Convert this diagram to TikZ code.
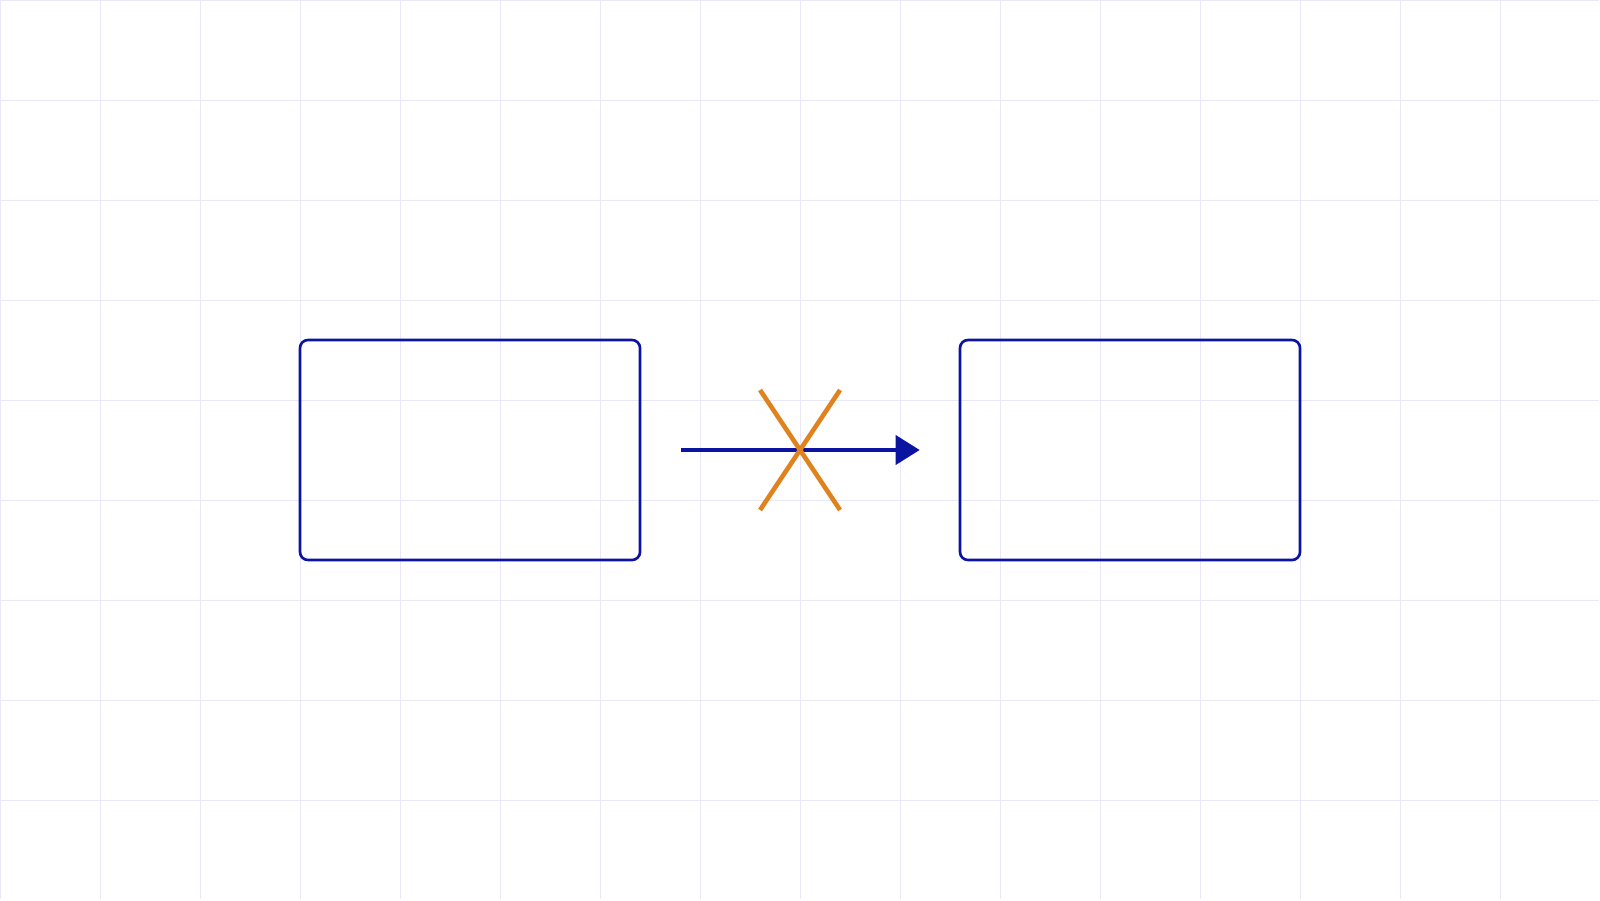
\documentclass[tikz,border=0pt]{standalone}
\usepackage{xcolor}
\usepackage{tikz}
\usetikzlibrary{arrows.meta,positioning}

\definecolor{gridcol}{HTML}{E8E8F8}
\definecolor{boxblue}{HTML}{0A14A0}
\definecolor{crossorange}{HTML}{E0821E}

\begin{document}
\begin{tikzpicture}
        % Define styles
        \tikzset{
            block/.style={rectangle, draw=boxblue, line width=0.75pt, rounded corners=0.08cm, minimum width=3.4cm, minimum height=2.2cm},
            arrow/.style={-{Triangle[length=0.24cm,width=0.29cm]}, draw=boxblue, fill=boxblue, line width=1.1pt},
            crossline/.style={draw=crossorange, line width=1.3pt},
            gridline/.style={draw=gridcol, line width=0.28pt}
        }
        \useasboundingbox (0,0) rectangle (16,9);

        % Background grid
        \draw[gridline] (0,0.01) grid (15.99,9);

        % Nodes
        \node[block] (block_left) at (4.7,4.5) {};
        \node[block] (block_right) at (11.3,4.5) {};

        % Arrow
        \coordinate (arrow_start) at ([xshift=0.4cm]block_left.east);
        \coordinate (arrow_end) at ([xshift=-0.39cm]block_right.west);
        \draw[arrow] (arrow_start) -- (arrow_end);

        % Cross
        \coordinate (cross_center) at (8,4.5);
        \draw[crossline] ([shift={(-0.4,0.6)}]cross_center) -- ([shift={(0.4,-0.6)}]cross_center);
        \draw[crossline] ([shift={(0.4,0.6)}]cross_center) -- ([shift={(-0.4,-0.6)}]cross_center);
    \end{tikzpicture}
\end{document}
